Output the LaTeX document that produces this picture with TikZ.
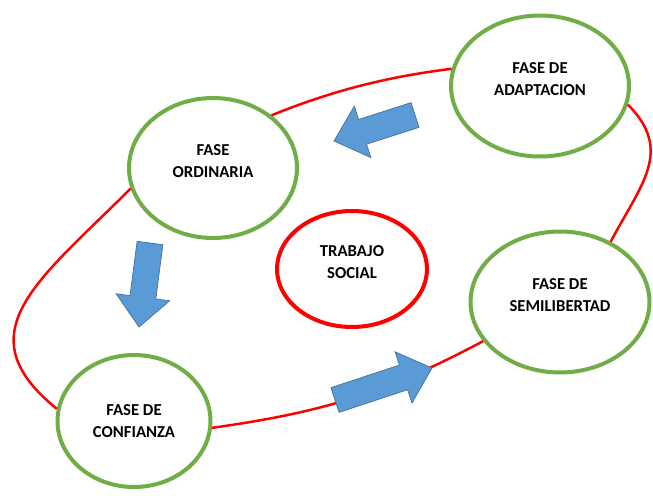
\documentclass[tikz,border=0pt]{standalone}
\usepackage{fontspec}
\setmainfont{Carlito}
\usepackage{tikz}
\usetikzlibrary{positioning}
\usetikzlibrary{calc}
\usetikzlibrary{shapes.geometric}

\definecolor{fasegreen}{HTML}{70AD47}
\definecolor{ringred}{HTML}{FF0000}
\definecolor{arrowblue}{HTML}{5B9BD5}
\definecolor{arrowedge}{HTML}{41719C}

% block arrow from tail to tip
\newcommand{\blockarrow}[2]{%
  \coordinate (ba-neck) at ($(#2)!0.6cm!(#1)$);
  \draw[blockarr] ($(#1)!0.26cm!90:(#2)$) -- ($(ba-neck)!0.26cm!-90:(#1)$)
    -- ($(ba-neck)!0.54cm!-90:(#1)$) -- (#2)
    -- ($(ba-neck)!0.54cm!90:(#1)$) -- ($(ba-neck)!0.26cm!90:(#1)$)
    -- ($(#1)!0.26cm!-90:(#2)$) -- cycle;
}
% empty line below the text, lifts it a little
\newcommand{\lift}{\\[-5pt]\mbox{}}

\begin{document}
\begin{tikzpicture}[
        x=0.02cm, y=-0.02cm,
        fase/.style={ellipse, draw=fasegreen, line width=0.08cm, fill=white, align=center,
            font=\fontsize{9.5}{13}\selectfont\bfseries, inner sep=0pt},
        centro/.style={fase, draw=ringred},
        ring/.style={draw=ringred, line width=0.05cm},
        blockarr/.style={fill=arrowblue, draw=arrowedge, line width=0.4pt, line join=miter}
    ]
        \useasboundingbox (0,0) rectangle (653,495);

        \node[fase, minimum width=3.36cm, minimum height=2.8cm] (ord) at (213,168) {FASE\\ORDINARIA\lift};
        \node[fase, minimum width=3.56cm, minimum height=2.82cm] (adap) at (540,86) {FASE DE\\ADAPTACION\lift};
        \node[fase, minimum width=3.58cm, minimum height=2.82cm] (semi) at (560,302) {FASE DE\\SEMILIBERTAD\lift};
        \node[fase, minimum width=3.06cm, minimum height=2.64cm] (conf) at (134,421) {FASE DE\\CONFIANZA};
        \node[centro, minimum width=3.0cm, minimum height=2.32cm] (ts) at (352,269) {TRABAJO\\SOCIAL\lift};

        % red loop
        \draw[ring] (ord.194) to[out=225, in=141, out looseness=1.44, in looseness=1.33] (conf.171);
        \draw[ring] (conf.-5) to[out=8, in=208] (semi.207);
        \draw[ring] (semi.50) to[out=62, in=-45, looseness=1.2] (adap.-12);
        \draw[ring] (adap.169) to[out=187, in=22, looseness=0.9] (ord.42);

        % blue arrows
        \coordinate (a1s) at (415,115);
        \coordinate (a1e) at (334,141);
        \coordinate (a2s) at (150,243);
        \coordinate (a2e) at (139,327);
        \coordinate (a3s) at (335,400);
        \coordinate (a3e) at (432,368);
        \blockarrow{a1s}{a1e}
        \blockarrow{a2s}{a2e}
        \blockarrow{a3s}{a3e}
    \end{tikzpicture}
\end{document}
